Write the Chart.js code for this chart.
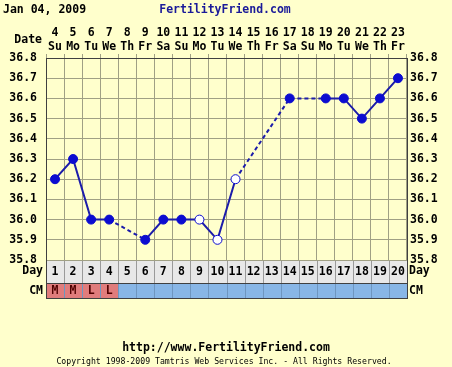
<!DOCTYPE html>
<html>
<head>
<meta charset="utf-8">
<script src="https://cdn.jsdelivr.net/npm/chart.js@4.4.1/dist/chart.umd.min.js"></script>
<style>
html, body { margin: 0; padding: 0; background: #ffffcc; }
#wrap { width: 452px; height: 367px; position: relative; }
</style>
</head>
<body>
<div id="wrap"><canvas id="ffChart"></canvas></div>
<script>
// chart values
var dateNums = ["4", "5", "6", "7", "8", "9", "10", "11", "12", "13", "14", "15", "16", "17", "18", "19", "20", "21", "22", "23"];
var weekDays = ["Su", "Mo", "Tu", "We", "Th", "Fr", "Sa", "Su", "Mo", "Tu", "We", "Th", "Fr", "Sa", "Su", "Mo", "Tu", "We", "Th", "Fr"];
var cycleDays = ["1", "2", "3", "4", "5", "6", "7", "8", "9", "10", "11", "12", "13", "14", "15", "16", "17", "18", "19", "20"];
var temps = [36.2, 36.3, 36.0, 36.0, null, 35.9, 36.0, 36.0, 36.0, 35.9, 36.2, null, null, 36.6, null, 36.6, 36.6, 36.5, 36.6, 36.7];
var openPoint = [false, false, false, false, false, false, false, false, true, true, true, false, false, false, false, false, false, false, false, false];
var cmCodes = ["M", "M", "L", "L", "", "", "", "", "", "", "", "", "", "", "", "", "", "", "", ""];
var tempTicks = [35.8, 35.9, 36.0, 36.1, 36.2, 36.3, 36.4, 36.5, 36.6, 36.7, 36.8];

var dateLabels = dateNums.map(function (d, i) { return [d, weekDays[i]]; });

var boldFont = { family: "'DejaVu Sans Mono', monospace", size: 11.5, weight: "bold" };
var gridColor = "#a0a084";
var blue = "#0c0cd0";

// extra rows, header and footer
var chartExtras = {
  id: "chartExtras",
  beforeDraw: function (chart) {
    var c = chart.ctx, a = chart.chartArea, x = chart.scales.x;
    c.save();
    c.fillStyle = "#ffffcc";
    c.fillRect(0, 0, chart.width, chart.height);

    var rowTop = a.bottom, rowMid = a.bottom + 23, rowEnd = a.bottom + 38;
    var colW = (a.right - a.left) / cycleDays.length;
    c.fillStyle = "#e8e8e8";
    c.fillRect(a.left, rowTop, a.right - a.left, rowMid - rowTop);
    c.fillStyle = "#88b6e6";
    c.fillRect(a.left, rowMid, a.right - a.left, rowEnd - rowMid);
    cmCodes.forEach(function (code, i) {
      if (code) {
        c.fillStyle = "#e07c7c";
        c.fillRect(a.left + i * colW, rowMid, colW, rowEnd - rowMid);
      }
    });
    c.lineWidth = 1;
    for (var i = 1; i < cycleDays.length; i++) {
      var gx = Math.round(a.left + i * colW) + 0.5;
      c.strokeStyle = "#9a9a9a";
      c.beginPath(); c.moveTo(gx, rowTop); c.lineTo(gx, rowMid); c.stroke();
      c.strokeStyle = "#6e96c0";
      c.beginPath(); c.moveTo(gx, rowMid); c.lineTo(gx, rowEnd); c.stroke();
    }
    c.strokeStyle = "#404040";
    c.strokeRect(a.left + 0.5, rowTop + 0.5, a.right - a.left, rowEnd - rowTop);
    c.beginPath(); c.moveTo(a.left, rowMid + 0.5); c.lineTo(a.right, rowMid + 0.5); c.stroke();

    c.font = "bold 11.5px 'DejaVu Sans Mono', monospace";
    c.textBaseline = "middle";
    c.fillStyle = "#500000";
    c.textAlign = "center";
    cmCodes.forEach(function (code, i) {
      if (code) c.fillText(code, x.getPixelForValue(i), rowMid + 8);
    });

    c.fillStyle = "#000";
    c.textAlign = "right";
    c.fillText("Date", 42, 40);
    c.fillText("Day", 43, rowTop + 11);
    c.fillText("CM", 43, rowMid + 8);
    c.textAlign = "left";
    c.fillText("Day", a.right + 2, rowTop + 11);
    c.fillText("CM", a.right + 2, rowMid + 8);
    c.fillText("Jan 04, 2009", 3, 10);

    c.fillStyle = "#1a1a99";
    c.textAlign = "center";
    c.fillText("FertilityFriend.com", 225, 10);

    c.fillStyle = "#000";
    c.fillText("http://www.FertilityFriend.com", 226, 348);
    c.font = "8.2px 'DejaVu Sans Mono', monospace";
    c.fillText("Copyright 1998-2009 Tamtris Web Services Inc. - All Rights Reserved.", 224, 362);
    c.restore();
  }
};

var ctx = document.getElementById("ffChart");
var ffChart = new Chart(ctx, {
  type: "line",
  data: {
    labels: dateLabels,
    datasets: [
      {
        label: "Temp",
        data: temps,
        xAxisID: "x",
        yAxisID: "y",
        spanGaps: true,
        borderColor: "#1c1caa",
        borderWidth: 2,
        pointRadius: 4.5,
        pointBorderWidth: 1,
        pointBorderColor: blue,
        pointBackgroundColor: openPoint.map(function (o) { return o ? "#ffffff" : blue; }),
        segment: {
          borderDash: function (s) { return (s.p0.skip || s.p1.skip) ? [4, 3] : undefined; }
        }
      }
    ]
  },
  options: {
    responsive: true,
    maintainAspectRatio: false,
    animation: false,
    devicePixelRatio: 1,
    events: [],
    layout: { padding: { top: 22, bottom: 84, left: 0, right: 0 } },
    plugins: { legend: { display: false }, tooltip: { enabled: false } },
    scales: {
      x: {
        type: "category",
        position: "top",
        offset: true,
        grid: { offset: true, color: gridColor, tickLength: 4 },
        border: { color: "#404040" },
        ticks: { font: boldFont, color: "#000", padding: 0, autoSkip: false, maxRotation: 0 },
        afterFit: function (s) { s.height = 36; }
      },
      x2: {
        type: "category",
        position: "bottom",
        labels: cycleDays,
        offset: true,
        grid: { display: false, drawTicks: false },
        border: { display: false },
        ticks: { font: boldFont, color: "#000", padding: 5, autoSkip: false, maxRotation: 0 },
        afterFit: function (s) { s.height = 23; }
      },
      y: {
        position: "left",
        min: 35.8,
        max: 36.8,
        grid: { color: gridColor, drawTicks: false },
        border: { color: "#404040" },
        afterBuildTicks: function (s) { s.ticks = tempTicks.map(function (v) { return { value: v }; }); },
        ticks: { font: boldFont, color: "#000", padding: 9, callback: function (v) { return Number(v).toFixed(1); } },
        afterFit: function (s) { s.width = 46; }
      },
      y2: {
        position: "right",
        min: 35.8,
        max: 36.8,
        grid: { display: false, drawTicks: false },
        border: { color: "#404040" },
        afterBuildTicks: function (s) { s.ticks = tempTicks.map(function (v) { return { value: v }; }); },
        ticks: { font: boldFont, color: "#000", padding: 3, callback: function (v) { return Number(v).toFixed(1); } },
        afterFit: function (s) { s.width = 45; }
      }
    }
  },
  plugins: [chartExtras]
});
</script>
</body>
</html>
